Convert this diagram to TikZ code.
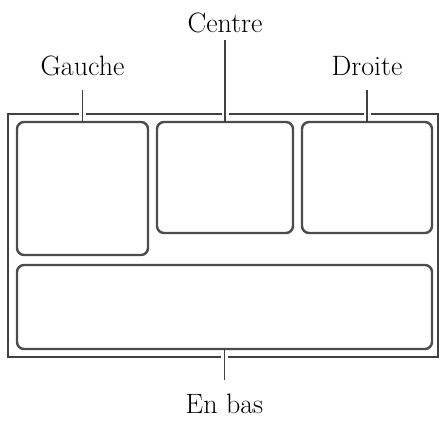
\documentclass[tikz,border=0pt]{standalone}
\begin{document}
\begin{tikzpicture}[x=1pt, y=-1pt,
  zone/.style={draw=black!70, line width=2.4pt, rounded corners=7pt, inner sep=0pt, outer sep=0pt},
  lbl/.style={font=\fontsize{28}{30}\selectfont, inner sep=0pt, text depth=0pt},
  leader/.style={draw=black!75, line width=1.8pt}]
\useasboundingbox (0,0) rectangle (445,421);
% frame of the screen
\node[draw=black!75, line width=2.2pt, inner sep=0pt, outer sep=0pt,
  minimum width=430pt, minimum height=243pt] (frame) at (223,235.5) {};
% zones
\node[zone, minimum width=131pt, minimum height=133pt] (gauche) at (82.5,188.5) {};
\node[zone, minimum width=136pt, minimum height=111pt] (centre) at (225,177.5) {};
\node[zone, minimum width=130pt, minimum height=111pt] (droite) at (367,177.5) {};
\node[zone, minimum width=415pt, minimum height=84pt] (bas) at (224.5,307) {};
% labels
\node[lbl, anchor=base] (lgauche) at (82.5,75) {Gauche};
\node[lbl, anchor=base] (lcentre) at (225,32) {Centre};
\node[lbl, anchor=base] (ldroite) at (367,75) {Droite};
\node[lbl, anchor=base] (lbas) at (224.5,413) {En bas};
% gaps in the frame round the leaders
\foreach \z in {gauche,centre,droite}
  \draw[white, line width=7pt] ([yshift=2pt]\z.north |- frame.north) -- ([yshift=-2pt]\z.north |- frame.north);
\draw[white, line width=7pt] ([yshift=2pt]bas.south |- frame.south) -- ([yshift=-2pt]bas.south |- frame.south);
% leaders
\draw[leader, shorten >=15pt] (gauche.north) -- (gauche.north |- lgauche.base);
\draw[leader, shorten >=8pt] (centre.north) -- (centre.north |- lcentre.base);
\draw[leader, shorten >=15pt] (droite.north) -- (droite.north |- ldroite.base);
\draw[leader, shorten >=13pt] (bas.south) -- (bas.south |- lbas.north);
\end{tikzpicture}
\end{document}
